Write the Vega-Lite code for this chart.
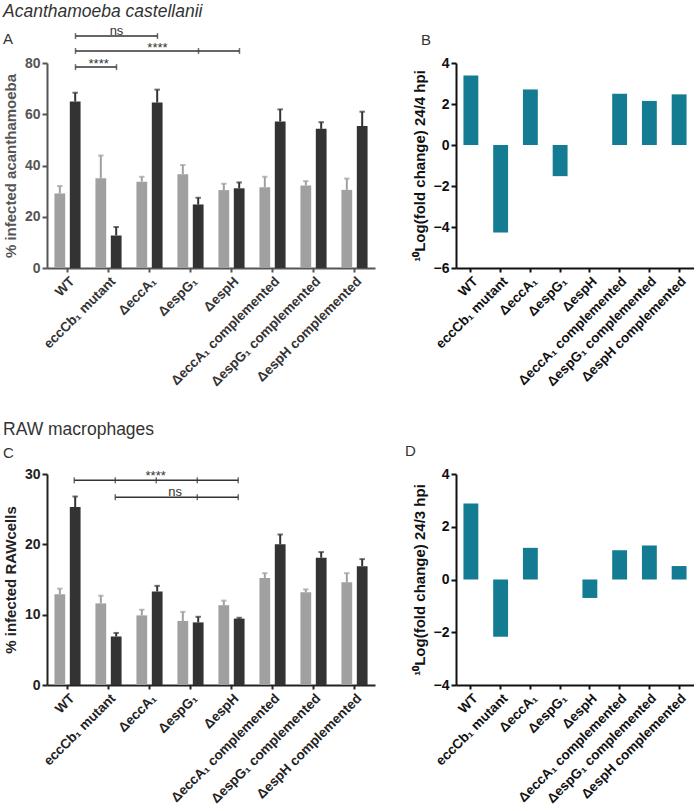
{
  "$schema": "https://vega.github.io/schema/vega-lite/v6.json",
  "padding": {"left": 3, "top": 2, "right": 0, "bottom": 0},
  "config": {
    "font": "Liberation Sans",
    "view": {"stroke": null},
    "bar": {"stroke": null}
  },
  "datasets": {
    "amoeba": [
      {"strain": "WT", "time": "early", "mean": 29.1, "upper": 32.0},
      {"strain": "WT", "time": "late", "mean": 65.0, "upper": 68.4},
      {"strain": "eccCb₁ mutant", "time": "early", "mean": 35.0, "upper": 43.9},
      {"strain": "eccCb₁ mutant", "time": "late", "mean": 12.7, "upper": 16.0},
      {"strain": "ΔeccA₁", "time": "early", "mean": 33.7, "upper": 35.6},
      {"strain": "ΔeccA₁", "time": "late", "mean": 64.6, "upper": 69.6},
      {"strain": "ΔespG₁", "time": "early", "mean": 36.6, "upper": 40.2},
      {"strain": "ΔespG₁", "time": "late", "mean": 24.8, "upper": 27.4},
      {"strain": "ΔespH", "time": "early", "mean": 30.4, "upper": 32.9},
      {"strain": "ΔespH", "time": "late", "mean": 31.1, "upper": 33.4},
      {"strain": "ΔeccA₁ complemented", "time": "early", "mean": 31.5, "upper": 35.6},
      {"strain": "ΔeccA₁ complemented", "time": "late", "mean": 57.2, "upper": 61.9},
      {"strain": "ΔespG₁ complemented", "time": "early", "mean": 32.2, "upper": 33.9},
      {"strain": "ΔespG₁ complemented", "time": "late", "mean": 54.3, "upper": 56.9},
      {"strain": "ΔespH complemented", "time": "early", "mean": 30.5, "upper": 34.9},
      {"strain": "ΔespH complemented", "time": "late", "mean": 55.4, "upper": 61.0}
    ],
    "raw": [
      {"strain": "WT", "time": "early", "mean": 12.9, "upper": 13.7},
      {"strain": "WT", "time": "late", "mean": 25.3, "upper": 26.8},
      {"strain": "eccCb₁ mutant", "time": "early", "mean": 11.6, "upper": 12.7},
      {"strain": "eccCb₁ mutant", "time": "late", "mean": 6.9, "upper": 7.4},
      {"strain": "ΔeccA₁", "time": "early", "mean": 9.9, "upper": 10.7},
      {"strain": "ΔeccA₁", "time": "late", "mean": 13.3, "upper": 14.1},
      {"strain": "ΔespG₁", "time": "early", "mean": 9.1, "upper": 10.4},
      {"strain": "ΔespG₁", "time": "late", "mean": 8.9, "upper": 9.7},
      {"strain": "ΔespH", "time": "early", "mean": 11.35, "upper": 12.0},
      {"strain": "ΔespH", "time": "late", "mean": 9.44, "upper": 9.56},
      {"strain": "ΔeccA₁ complemented", "time": "early", "mean": 15.2, "upper": 15.9},
      {"strain": "ΔeccA₁ complemented", "time": "late", "mean": 20.0, "upper": 21.4},
      {"strain": "ΔespG₁ complemented", "time": "early", "mean": 13.2, "upper": 13.6},
      {"strain": "ΔespG₁ complemented", "time": "late", "mean": 18.1, "upper": 18.9},
      {"strain": "ΔespH complemented", "time": "early", "mean": 14.6, "upper": 15.9},
      {"strain": "ΔespH complemented", "time": "late", "mean": 16.9, "upper": 17.9}
    ],
    "foldB": [
      {"strain": "WT", "log": 3.39},
      {"strain": "eccCb₁ mutant", "log": -4.27},
      {"strain": "ΔeccA₁", "log": 2.71},
      {"strain": "ΔespG₁", "log": -1.52},
      {"strain": "ΔespH", "log": 0},
      {"strain": "ΔeccA₁ complemented", "log": 2.5},
      {"strain": "ΔespG₁ complemented", "log": 2.15},
      {"strain": "ΔespH complemented", "log": 2.47}
    ],
    "foldD": [
      {"strain": "WT", "log": 2.88},
      {"strain": "eccCb₁ mutant", "log": -2.17},
      {"strain": "ΔeccA₁", "log": 1.2},
      {"strain": "ΔespG₁", "log": 0},
      {"strain": "ΔespH", "log": -0.7},
      {"strain": "ΔeccA₁ complemented", "log": 1.11},
      {"strain": "ΔespG₁ complemented", "log": 1.29},
      {"strain": "ΔespH complemented", "log": 0.51}
    ],
    "bracketsA": [
      {"strain": "WT", "to": "eccCb₁ mutant", "level": 78.4},
      {"strain": "WT", "to": "ΔespH", "level": 84.7},
      {"strain": "WT", "to": "ΔeccA₁", "level": 90.5}
    ],
    "capsA": [
      {"strain": "WT", "level": 78.4},
      {"strain": "eccCb₁ mutant", "level": 78.4},
      {"strain": "WT", "level": 84.7},
      {"strain": "ΔespG₁", "level": 84.7},
      {"strain": "ΔespH", "level": 84.7},
      {"strain": "WT", "level": 90.5},
      {"strain": "ΔeccA₁", "level": 90.5}
    ],
    "bracketsC": [
      {"strain": "WT", "to": "ΔespH", "level": 29.1},
      {"strain": "eccCb₁ mutant", "to": "ΔespH", "level": 26.7}
    ],
    "capsC": [
      {"strain": "WT", "level": 29.1},
      {"strain": "eccCb₁ mutant", "level": 29.1},
      {"strain": "ΔeccA₁", "level": 29.1},
      {"strain": "ΔespG₁", "level": 29.1},
      {"strain": "ΔespH", "level": 29.1},
      {"strain": "eccCb₁ mutant", "level": 26.7},
      {"strain": "ΔespG₁", "level": 26.7},
      {"strain": "ΔespH", "level": 26.7}
    ]
  },
  "concat": [
    {
      "width": 328,
      "height": 205,
      "title": {"text": "Acanthamoeba castellanii", "subtitle": "A", "anchor": "start", "frame": "group", "dx": -44, "fontSize": 17.5, "fontStyle": "italic", "fontWeight": "normal", "color": "#333333", "subtitleFontSize": 15, "subtitleColor": "#333333", "subtitlePadding": 12, "offset": -22},
      "layer": [
        {
          "data": {"name": "amoeba"},
          "mark": {"type": "bar"},
          "encoding": {
            "x": {"field": "strain", "type": "nominal", "scale": {"domain": ["WT", "eccCb₁ mutant", "ΔeccA₁", "ΔespG₁", "ΔespH", "ΔeccA₁ complemented", "ΔespG₁ complemented", "ΔespH complemented"], "paddingInner": 0.25, "paddingOuter": 0.125},
              "axis": {"title": null, "labelAngle": -45, "labelAlign": "right", "labelBaseline": "top", "labelFontSize": 13.5, "labelFontWeight": "bold", "labelColor": "#333333", "domainColor": "#555555", "domainWidth": 2, "tickColor": "#555555", "tickWidth": 2, "tickSize": 4, "labelPadding": 2}},
            "xOffset": {"field": "time", "type": "nominal", "scale": {"domain": ["early", "late"], "paddingInner": 0.3, "paddingOuter": 0.15}},
            "y": {"field": "mean", "type": "quantitative", "scale": {"domain": [0, 80], "nice": false},
              "axis": {"title": "% infected acanthamoeba", "titleFontSize": 15, "titleFontWeight": "bold", "titleColor": "#555555", "labelFontSize": 14, "labelFontWeight": "bold", "labelColor": "#555555", "domainColor": "#555555", "domainWidth": 2, "tickColor": "#555555", "tickWidth": 2, "tickSize": 5, "grid": false, "values": [0, 20, 40, 60, 80], "labelPadding": 2, "titlePadding": 6}},
            "color": {"field": "time", "type": "nominal", "scale": {"domain": ["early", "late"], "range": ["#a0a0a0", "#333333"]}, "legend": null}
          }
        },
        {
          "data": {"name": "amoeba"},
          "mark": {"type": "rule", "strokeWidth": 2},
          "encoding": {
            "x": {"field": "strain", "type": "nominal", "scale": {"domain": ["WT", "eccCb₁ mutant", "ΔeccA₁", "ΔespG₁", "ΔespH", "ΔeccA₁ complemented", "ΔespG₁ complemented", "ΔespH complemented"]}},
            "xOffset": {"field": "time", "type": "nominal", "scale": {"domain": ["early", "late"]}},
            "y": {"field": "mean", "type": "quantitative", "scale": {"domain": [0, 80], "nice": false}},
            "y2": {"field": "upper"},
            "color": {"field": "time", "type": "nominal", "scale": {"domain": ["early", "late"]}, "legend": null}
          }
        },
        {
          "data": {"name": "amoeba"},
          "mark": {"type": "tick", "orient": "horizontal", "size": 5.5, "thickness": 2},
          "encoding": {
            "x": {"field": "strain", "type": "nominal", "scale": {"domain": ["WT", "eccCb₁ mutant", "ΔeccA₁", "ΔespG₁", "ΔespH", "ΔeccA₁ complemented", "ΔespG₁ complemented", "ΔespH complemented"]}},
            "xOffset": {"field": "time", "type": "nominal", "scale": {"domain": ["early", "late"]}},
            "y": {"field": "upper", "type": "quantitative", "scale": {"domain": [0, 80], "nice": false}},
            "color": {"field": "time", "type": "nominal", "scale": {"domain": ["early", "late"]}, "legend": null}
          }
        },
        {
          "data": {"name": "bracketsA"},
          "mark": {"type": "rule", "strokeWidth": 1.5, "color": "#333333"},
          "encoding": {
            "x": {"field": "strain", "type": "nominal", "bandPosition": 0.76, "scale": {"domain": ["WT", "eccCb₁ mutant", "ΔeccA₁", "ΔespG₁", "ΔespH", "ΔeccA₁ complemented", "ΔespG₁ complemented", "ΔespH complemented"]}},
            "x2": {"field": "to", "bandPosition": 0.76},
            "y": {"field": "level", "type": "quantitative", "scale": {"domain": [0, 80], "nice": false}}
          }
        },
        {
          "data": {"name": "capsA"},
          "mark": {"type": "tick", "orient": "vertical", "size": 6, "thickness": 1.5, "color": "#333333"},
          "encoding": {
            "x": {"field": "strain", "type": "nominal", "bandPosition": 0.76, "scale": {"domain": ["WT", "eccCb₁ mutant", "ΔeccA₁", "ΔespG₁", "ΔespH", "ΔeccA₁ complemented", "ΔespG₁ complemented", "ΔespH complemented"]}},
            "y": {"field": "level", "type": "quantitative", "scale": {"domain": [0, 80], "nice": false}}
          }
        },
        {
          "data": {"values": [{"strain": "eccCb₁ mutant", "level": 90.5, "label": "ns"}]},
          "mark": {"type": "text", "fontSize": 13, "fill": "#333333", "baseline": "alphabetic", "dy": -1},
          "encoding": {
            "x": {"field": "strain", "type": "nominal", "bandPosition": 0.76, "scale": {"domain": ["WT", "eccCb₁ mutant", "ΔeccA₁", "ΔespG₁", "ΔespH", "ΔeccA₁ complemented", "ΔespG₁ complemented", "ΔespH complemented"]}},
            "y": {"field": "level", "type": "quantitative", "scale": {"domain": [0, 80], "nice": false}},
            "text": {"field": "label"}
          }
        },
        {
          "data": {"values": [{"strain": "ΔeccA₁", "level": 84.7, "label": "****"}]},
          "mark": {"type": "text", "fontSize": 13, "fill": "#333333", "baseline": "alphabetic", "dy": 1},
          "encoding": {
            "x": {"field": "strain", "type": "nominal", "bandPosition": 0.76, "scale": {"domain": ["WT", "eccCb₁ mutant", "ΔeccA₁", "ΔespG₁", "ΔespH", "ΔeccA₁ complemented", "ΔespG₁ complemented", "ΔespH complemented"]}},
            "y": {"field": "level", "type": "quantitative", "scale": {"domain": [0, 80], "nice": false}},
            "text": {"field": "label"}
          }
        },
        {
          "data": {"values": [{"strain": "eccCb₁ mutant", "level": 78.4, "label": "****"}]},
          "mark": {"type": "text", "fontSize": 13, "fill": "#333333", "baseline": "alphabetic", "dy": 1},
          "encoding": {
            "x": {"field": "strain", "type": "nominal", "bandPosition": 0.18, "scale": {"domain": ["WT", "eccCb₁ mutant", "ΔeccA₁", "ΔespG₁", "ΔespH", "ΔeccA₁ complemented", "ΔespG₁ complemented", "ΔespH complemented"]}},
            "y": {"field": "level", "type": "quantitative", "scale": {"domain": [0, 80], "nice": false}},
            "text": {"field": "label"}
          }
        }
      ]
    },
    {
      "width": 238,
      "height": 205,
      "title": {"text": "B", "anchor": "start", "frame": "group", "dx": -35, "fontSize": 15, "fontWeight": "normal", "color": "#333333", "offset": 8},
      "layer": [
        {
          "data": {"name": "foldB"},
          "mark": {"type": "bar", "color": "#137c92"},
          "encoding": {
            "x": {"field": "strain", "type": "nominal", "scale": {"domain": ["WT", "eccCb₁ mutant", "ΔeccA₁", "ΔespG₁", "ΔespH", "ΔeccA₁ complemented", "ΔespG₁ complemented", "ΔespH complemented"], "paddingInner": 0.5, "paddingOuter": 0.25},
              "axis": {"title": null, "labelAngle": -45, "labelAlign": "right", "labelBaseline": "top", "labelFontSize": 13.5, "labelFontWeight": "bold", "labelColor": "#111111", "domainColor": "#111111", "domainWidth": 2, "tickColor": "#111111", "tickWidth": 2, "tickSize": 4, "labelPadding": 2}},
            "y": {"field": "log", "type": "quantitative", "scale": {"domain": [-6, 4], "nice": false},
              "axis": {"title": "¹⁰Log(fold change) 24/4 hpi", "titleFontSize": 15, "titleFontWeight": "bold", "titleColor": "#111111", "labelFontSize": 14, "labelFontWeight": "bold", "labelColor": "#111111", "domainColor": "#111111", "domainWidth": 2, "tickColor": "#111111", "tickWidth": 2, "tickSize": 5, "grid": false, "values": [-6, -4, -2, 0, 2, 4], "labelPadding": 2, "titlePadding": 6}}
          }
        },
        {
          "mark": {"type": "rule", "strokeWidth": 2, "color": "#111111"},
          "encoding": {"y": {"datum": 0}}
        }
      ]
    },
    {
      "width": 328,
      "height": 211,
      "title": {"text": "RAW macrophages", "subtitle": "C", "anchor": "start", "frame": "group", "dx": -44, "fontSize": 17.5, "fontStyle": "normal", "fontWeight": "normal", "color": "#333333", "subtitleFontSize": 15, "subtitleColor": "#333333", "subtitlePadding": 8, "offset": 6},
      "layer": [
        {
          "data": {"name": "raw"},
          "mark": {"type": "bar"},
          "encoding": {
            "x": {"field": "strain", "type": "nominal", "scale": {"domain": ["WT", "eccCb₁ mutant", "ΔeccA₁", "ΔespG₁", "ΔespH", "ΔeccA₁ complemented", "ΔespG₁ complemented", "ΔespH complemented"], "paddingInner": 0.25, "paddingOuter": 0.125},
              "axis": {"title": null, "labelAngle": -45, "labelAlign": "right", "labelBaseline": "top", "labelFontSize": 13.5, "labelFontWeight": "bold", "labelColor": "#222222", "domainColor": "#222222", "domainWidth": 2, "tickColor": "#222222", "tickWidth": 2, "tickSize": 4, "labelPadding": 2}},
            "xOffset": {"field": "time", "type": "nominal", "scale": {"domain": ["early", "late"], "paddingInner": 0.3, "paddingOuter": 0.15}},
            "y": {"field": "mean", "type": "quantitative", "scale": {"domain": [0, 30], "nice": false},
              "axis": {"title": "% infected RAWcells", "titleFontSize": 15, "titleFontWeight": "bold", "titleColor": "#222222", "labelFontSize": 14, "labelFontWeight": "bold", "labelColor": "#222222", "domainColor": "#222222", "domainWidth": 2, "tickColor": "#222222", "tickWidth": 2, "tickSize": 5, "grid": false, "values": [0, 10, 20, 30], "labelPadding": 2, "titlePadding": 6}},
            "color": {"field": "time", "type": "nominal", "scale": {"domain": ["early", "late"], "range": ["#a6a6a8", "#333333"]}, "legend": null}
          }
        },
        {
          "data": {"name": "raw"},
          "mark": {"type": "rule", "strokeWidth": 2},
          "encoding": {
            "x": {"field": "strain", "type": "nominal", "scale": {"domain": ["WT", "eccCb₁ mutant", "ΔeccA₁", "ΔespG₁", "ΔespH", "ΔeccA₁ complemented", "ΔespG₁ complemented", "ΔespH complemented"]}},
            "xOffset": {"field": "time", "type": "nominal", "scale": {"domain": ["early", "late"]}},
            "y": {"field": "mean", "type": "quantitative", "scale": {"domain": [0, 30], "nice": false}},
            "y2": {"field": "upper"},
            "color": {"field": "time", "type": "nominal", "scale": {"domain": ["early", "late"]}, "legend": null}
          }
        },
        {
          "data": {"name": "raw"},
          "mark": {"type": "tick", "orient": "horizontal", "size": 5.5, "thickness": 2},
          "encoding": {
            "x": {"field": "strain", "type": "nominal", "scale": {"domain": ["WT", "eccCb₁ mutant", "ΔeccA₁", "ΔespG₁", "ΔespH", "ΔeccA₁ complemented", "ΔespG₁ complemented", "ΔespH complemented"]}},
            "xOffset": {"field": "time", "type": "nominal", "scale": {"domain": ["early", "late"]}},
            "y": {"field": "upper", "type": "quantitative", "scale": {"domain": [0, 30], "nice": false}},
            "color": {"field": "time", "type": "nominal", "scale": {"domain": ["early", "late"]}, "legend": null}
          }
        },
        {
          "data": {"name": "bracketsC"},
          "mark": {"type": "rule", "strokeWidth": 1.5, "color": "#333333"},
          "encoding": {
            "x": {"field": "strain", "type": "nominal", "bandPosition": 0.72, "scale": {"domain": ["WT", "eccCb₁ mutant", "ΔeccA₁", "ΔespG₁", "ΔespH", "ΔeccA₁ complemented", "ΔespG₁ complemented", "ΔespH complemented"]}},
            "x2": {"field": "to", "bandPosition": 0.72},
            "y": {"field": "level", "type": "quantitative", "scale": {"domain": [0, 30], "nice": false}}
          }
        },
        {
          "data": {"name": "capsC"},
          "mark": {"type": "tick", "orient": "vertical", "size": 6, "thickness": 1.5, "color": "#333333"},
          "encoding": {
            "x": {"field": "strain", "type": "nominal", "bandPosition": 0.72, "scale": {"domain": ["WT", "eccCb₁ mutant", "ΔeccA₁", "ΔespG₁", "ΔespH", "ΔeccA₁ complemented", "ΔespG₁ complemented", "ΔespH complemented"]}},
            "y": {"field": "level", "type": "quantitative", "scale": {"domain": [0, 30], "nice": false}}
          }
        },
        {
          "data": {"values": [{"strain": "ΔeccA₁", "level": 29.1, "label": "****"}]},
          "mark": {"type": "text", "fontSize": 13, "fill": "#333333", "baseline": "alphabetic", "dy": 0},
          "encoding": {
            "x": {"field": "strain", "type": "nominal", "bandPosition": 0.7, "scale": {"domain": ["WT", "eccCb₁ mutant", "ΔeccA₁", "ΔespG₁", "ΔespH", "ΔeccA₁ complemented", "ΔespG₁ complemented", "ΔespH complemented"]}},
            "y": {"field": "level", "type": "quantitative", "scale": {"domain": [0, 30], "nice": false}},
            "text": {"field": "label"}
          }
        },
        {
          "data": {"values": [{"strain": "ΔespG₁", "level": 26.7, "label": "ns"}]},
          "mark": {"type": "text", "fontSize": 13, "fill": "#333333", "baseline": "alphabetic", "dy": -1.5},
          "encoding": {
            "x": {"field": "strain", "type": "nominal", "bandPosition": 0.0, "scale": {"domain": ["WT", "eccCb₁ mutant", "ΔeccA₁", "ΔespG₁", "ΔespH", "ΔeccA₁ complemented", "ΔespG₁ complemented", "ΔespH complemented"]}},
            "y": {"field": "level", "type": "quantitative", "scale": {"domain": [0, 30], "nice": false}},
            "text": {"field": "label"}
          }
        }
      ]
    },
    {
      "width": 238,
      "height": 211,
      "title": {"text": "D", "anchor": "start", "frame": "group", "dx": -51, "fontSize": 15, "fontWeight": "normal", "color": "#333333", "offset": 8},
      "layer": [
        {
          "data": {"name": "foldD"},
          "mark": {"type": "bar", "color": "#137c92"},
          "encoding": {
            "x": {"field": "strain", "type": "nominal", "scale": {"domain": ["WT", "eccCb₁ mutant", "ΔeccA₁", "ΔespG₁", "ΔespH", "ΔeccA₁ complemented", "ΔespG₁ complemented", "ΔespH complemented"], "paddingInner": 0.5, "paddingOuter": 0.25},
              "axis": {"title": null, "labelAngle": -45, "labelAlign": "right", "labelBaseline": "top", "labelFontSize": 13.5, "labelFontWeight": "bold", "labelColor": "#111111", "domainColor": "#111111", "domainWidth": 2, "tickColor": "#111111", "tickWidth": 2, "tickSize": 4, "labelPadding": 2}},
            "y": {"field": "log", "type": "quantitative", "scale": {"domain": [-4, 4], "nice": false},
              "axis": {"title": "¹⁰Log(fold change) 24/3 hpi", "titleFontSize": 15, "titleFontWeight": "bold", "titleColor": "#111111", "labelFontSize": 14, "labelFontWeight": "bold", "labelColor": "#111111", "domainColor": "#111111", "domainWidth": 2, "tickColor": "#111111", "tickWidth": 2, "tickSize": 5, "grid": false, "values": [-4, -2, 0, 2, 4], "labelPadding": 2, "titlePadding": 6}}
          }
        },
        {
          "mark": {"type": "rule", "strokeWidth": 2, "color": "#111111"},
          "encoding": {"y": {"datum": 0}}
        }
      ]
    }
  ],
  "columns": 2,
  "bounds": "flush",
  "spacing": {"row": 206, "column": 81}
}
